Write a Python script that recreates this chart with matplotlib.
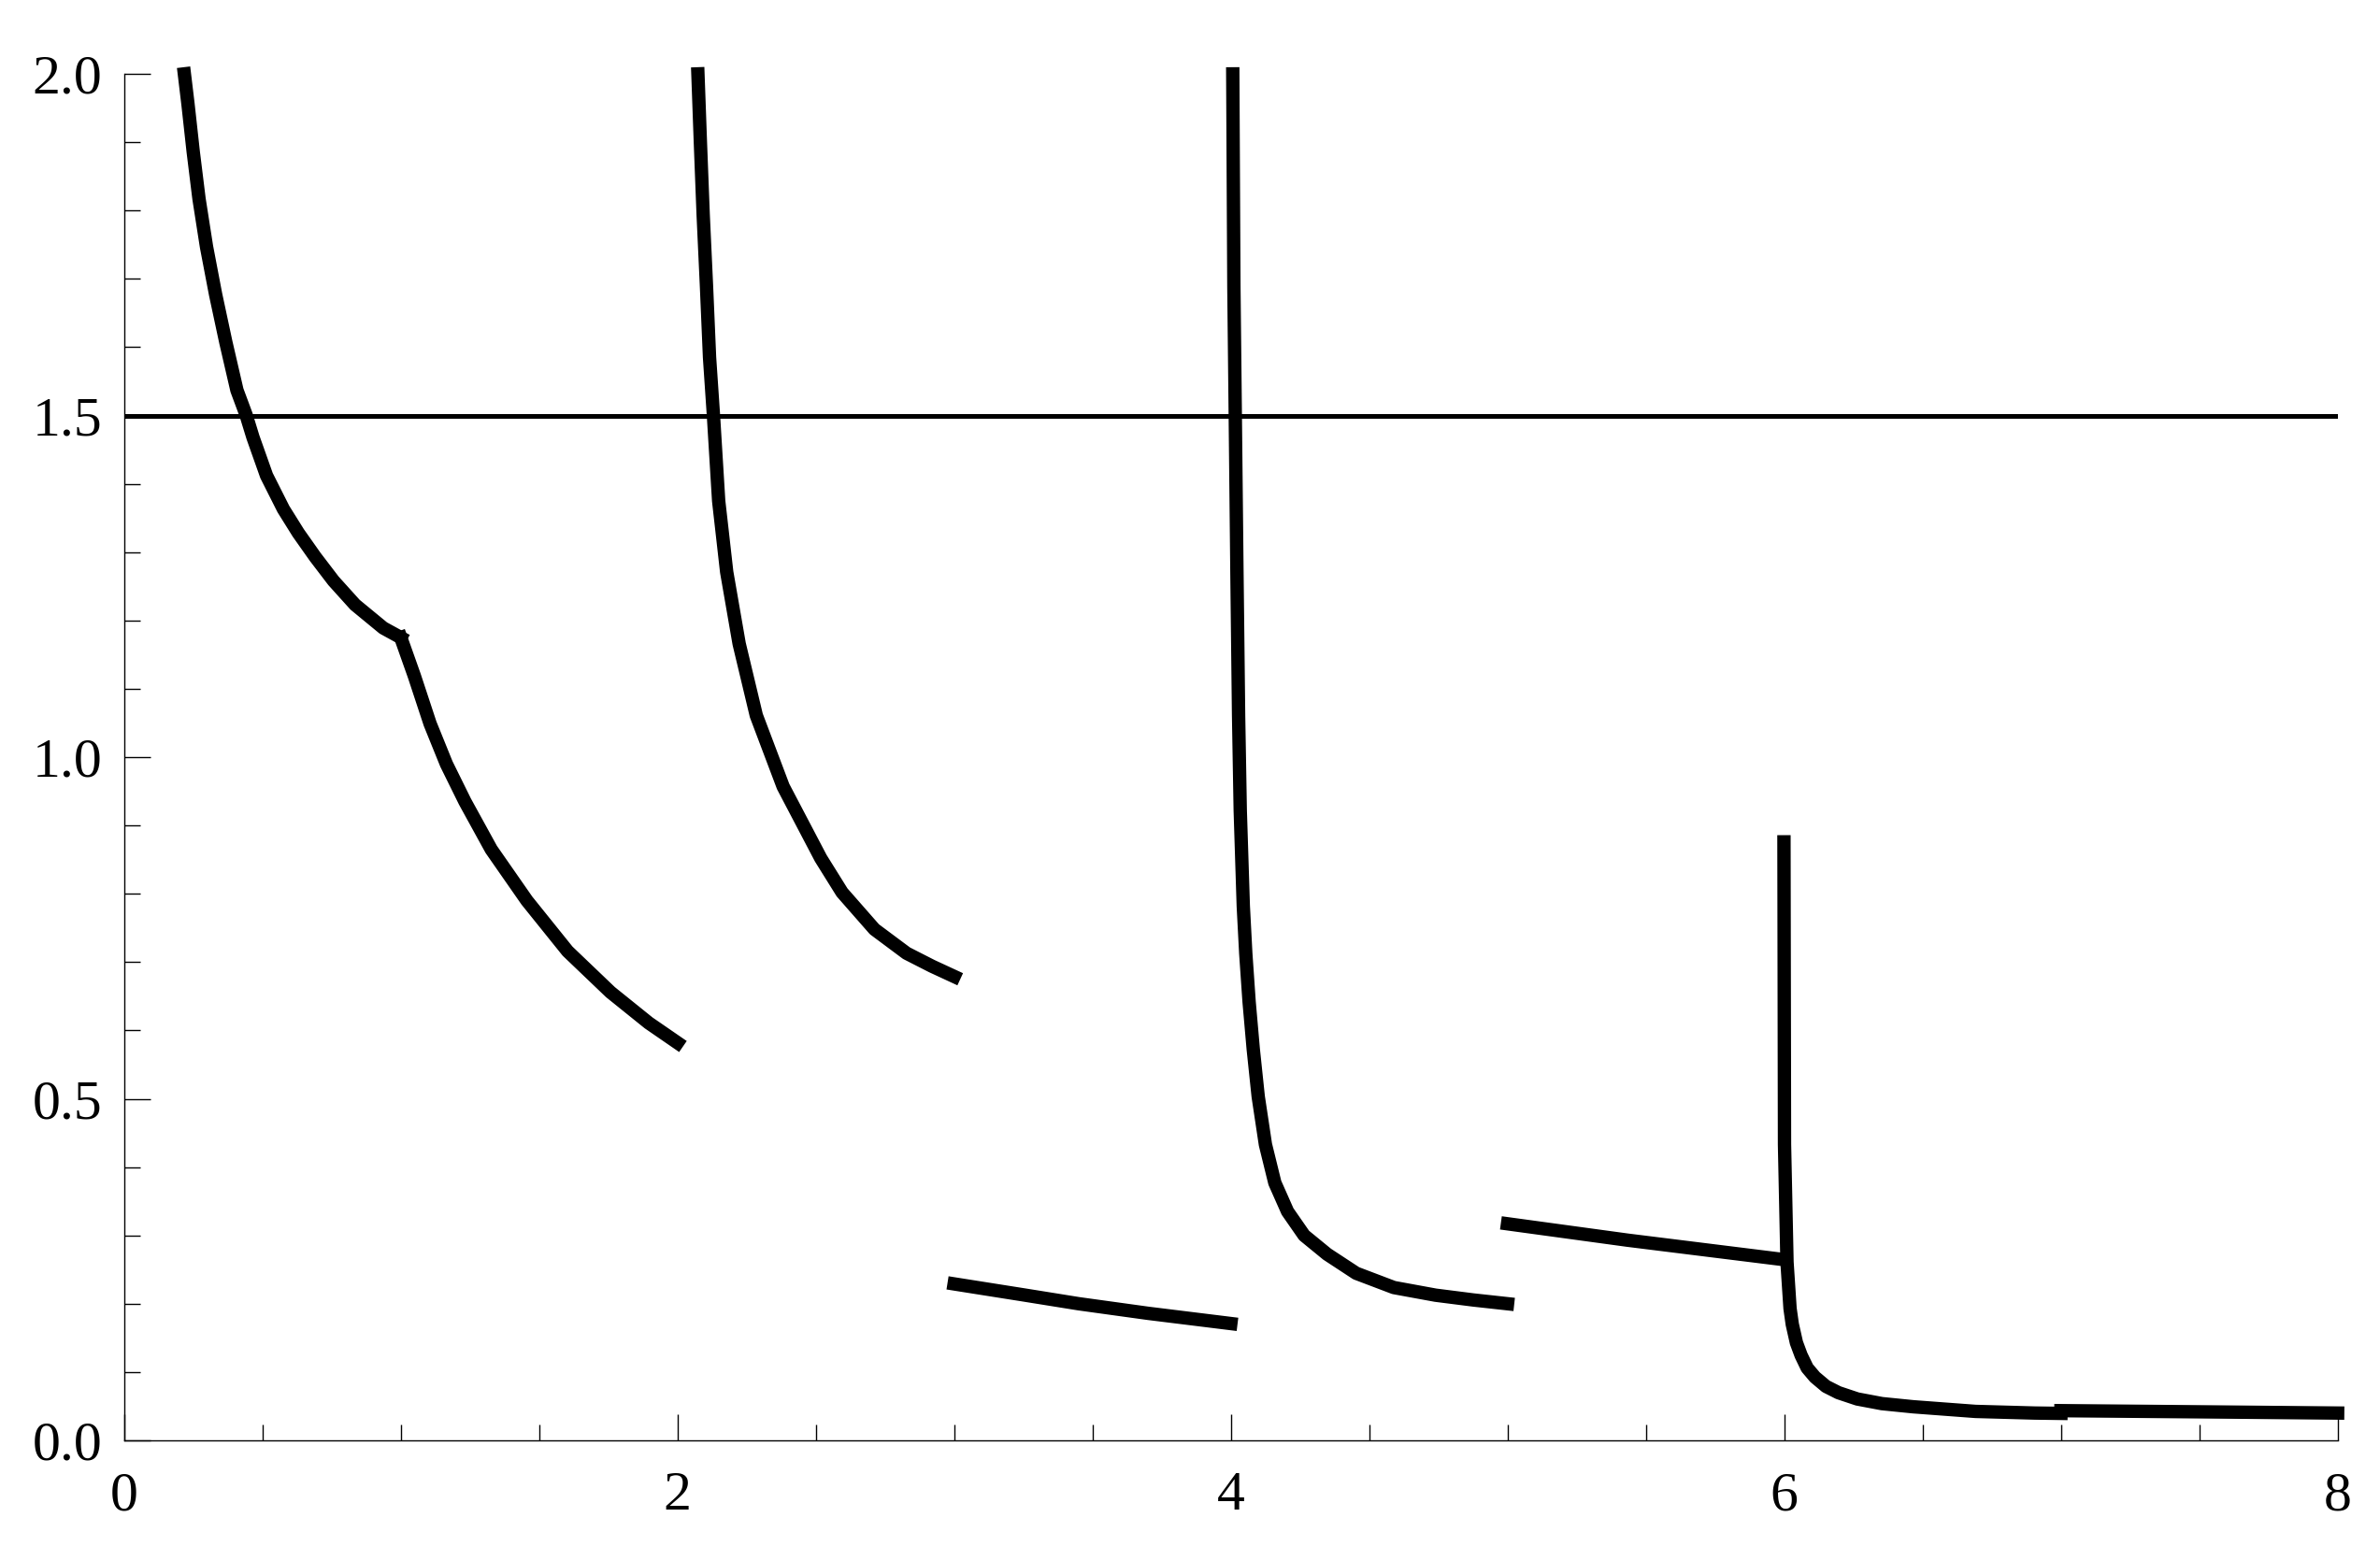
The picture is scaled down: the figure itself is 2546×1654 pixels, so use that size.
import numpy as np
import matplotlib.pyplot as plt
from matplotlib.ticker import MultipleLocator, FormatStrFormatter

# branches (x, y)
a1_x = [0.218, 0.231, 0.250, 0.271, 0.298, 0.331, 0.368, 0.408, 0.441, 0.466,
        0.515, 0.576, 0.630, 0.691, 0.757, 0.835, 0.937, 1.0]
a1_y = [2.0, 1.956, 1.886, 1.817, 1.747, 1.677, 1.607, 1.537, 1.501, 1.468,
        1.412, 1.363, 1.328, 1.293, 1.258, 1.223, 1.189, 1.175]

a2_x = [1.0, 1.049, 1.106, 1.165, 1.232, 1.327, 1.456, 1.603, 1.758, 1.896, 2.0]
a2_y = [1.175, 1.119, 1.049, 0.990, 0.935, 0.865, 0.790, 0.716, 0.656, 0.611, 0.582]

b_x = [2.074, 2.083, 2.093, 2.105, 2.116, 2.130, 2.149, 2.178, 2.223, 2.285,
       2.382, 2.518, 2.595, 2.712, 2.828, 2.92, 3.0]
b_y = [2.0, 1.899, 1.794, 1.689, 1.585, 1.501, 1.375, 1.271, 1.166, 1.061,
       0.957, 0.852, 0.802, 0.748, 0.713, 0.694, 0.679]

c_x = [3.0, 3.25, 3.45, 3.7, 4.0]
c_y = [0.229, 0.213, 0.200, 0.186, 0.171]

d_x = [4.007, 4.011, 4.016, 4.022, 4.028, 4.034, 4.045, 4.054, 4.066, 4.081,
       4.099, 4.125, 4.159, 4.205, 4.265, 4.348, 4.453, 4.589, 4.740, 4.876, 5.0]
d_y = [2.0, 1.689, 1.501, 1.271, 1.061, 0.922, 0.782, 0.7125, 0.642, 0.5726,
       0.503, 0.433, 0.377, 0.335, 0.300, 0.2725, 0.2446, 0.2237, 0.2125, 0.2055, 0.200]

e_x = [5.0, 5.434, 6.0]
e_y = [0.317, 0.293, 0.2645]

f_x = [5.999, 6.001, 6.010, 6.021, 6.029, 6.044, 6.061, 6.083, 6.111, 6.151,
       6.196, 6.264, 6.353, 6.466, 6.691, 6.905, 7.0]
f_y = [0.876, 0.433, 0.261, 0.193, 0.170, 0.143, 0.1245, 0.106, 0.0926, 0.079,
       0.0698, 0.0606, 0.0538, 0.0492, 0.0424, 0.040, 0.0395]

g_x = [7.0, 7.5, 8.0]
g_y = [0.0435, 0.0418, 0.040]

threshold = 1.5

branches = [(a1_x, a1_y), (a2_x, a2_y), (b_x, b_y), (c_x, c_y),
            (d_x, d_y), (e_x, e_y), (f_x, f_y), (g_x, g_y)]

plt.rcParams['font.family'] = ['Liberation Serif', 'DejaVu Serif']

fig = plt.figure(figsize=(25.46, 16.54), dpi=100)
ax = fig.add_axes([0.05212, 0.06832, 0.93008, 0.8839])

ax.axhline(threshold, xmin=0, xmax=1, color='k', lw=3.6, zorder=2)

for xs, ys in branches:
    ax.plot(xs, ys, color='k', lw=10.3, solid_capstyle='projecting',
            solid_joinstyle='round', clip_on=False, zorder=3)

ax.set_xlim(0, 8)
ax.set_ylim(0, 2)

for s in ['top', 'right']:
    ax.spines[s].set_visible(False)
for s in ['left', 'bottom']:
    ax.spines[s].set_linewidth(1.0)

ax.xaxis.set_major_locator(MultipleLocator(2))
ax.xaxis.set_minor_locator(MultipleLocator(0.5))
ax.yaxis.set_major_locator(MultipleLocator(0.5))
ax.yaxis.set_minor_locator(MultipleLocator(0.1))
ax.yaxis.set_major_formatter(FormatStrFormatter('%.1f'))

ax.tick_params(which='both', direction='in', width=1.0, labelsize=43)
ax.tick_params(which='major', length=20)
ax.tick_params(which='minor', length=12.5)
ax.tick_params(axis='x', which='major', pad=24)
ax.tick_params(axis='y', which='major', pad=17)

fig.savefig('out.png', dpi=100)
